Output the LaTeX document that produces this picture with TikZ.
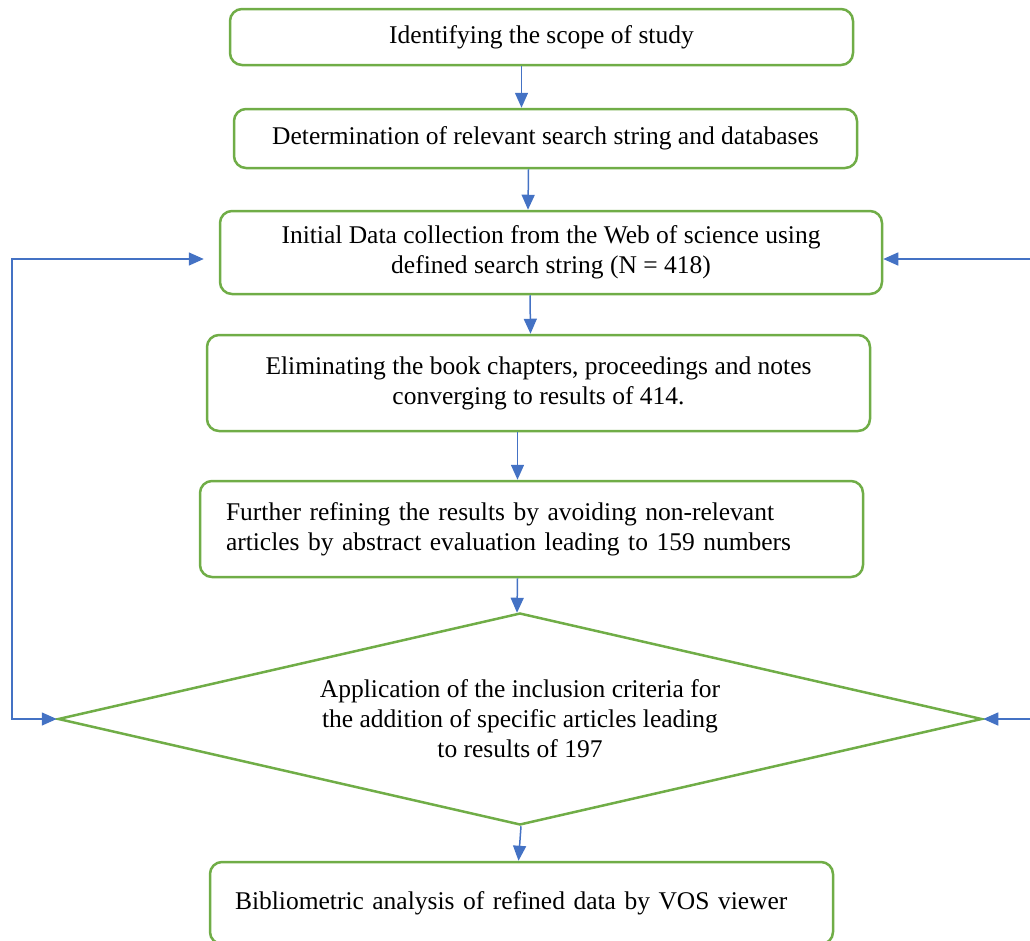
\documentclass[tikz,border=0pt]{standalone}
\usepackage{fontspec}
\setmainfont{Liberation Serif}
\usetikzlibrary{arrows.meta,shapes.geometric}
\definecolor{boxgreen}{RGB}{112,173,71}
\definecolor{lineblue}{RGB}{68,114,196}
\tikzset{
    stepbox/.style={draw=boxgreen, line width=2.5pt, rounded corners=12pt, align=center,
        inner sep=0pt, font=\fontsize{25.5}{30}\selectfont},
    critbox/.style={diamond, draw=boxgreen, line width=2.5pt, align=center, inner sep=0pt,
        minimum width=924pt, minimum height=212pt, aspect=4.36, font=\fontsize{25.5}{30}\selectfont},
    flow/.style={draw=lineblue, line width=1.5pt, -{Triangle[length=15pt,width=13pt]}}
}
\begin{document}
\begin{tikzpicture}[x=1pt, y=1pt]
    \useasboundingbox (0,0) rectangle (1030,-940);
    % steps of the review
    \node[stepbox, minimum width=623pt, minimum height=56pt] (scope) at (541.5,-37)
        {Identifying the scope of study};
    \node[stepbox, minimum width=623pt, minimum height=59pt] (search) at (545.5,-138.5)
        {Determination of relevant search string and databases};
    \node[stepbox, minimum width=662pt, minimum height=83pt] (init) at (551,-252.5)
        {Initial Data collection from the Web of science using\\defined search string (N = 418)};
    \node[stepbox, minimum width=663pt, minimum height=96pt] (elim) at (538.5,-383)
        {Eliminating the book chapters, proceedings and notes\\converging to results of 414.};
    \node[stepbox, minimum height=96pt, text width=611pt, inner xsep=26pt, align=left] (refine) at (531.5,-529)
        {Further refining the results by avoiding non-relevant\\articles by abstract evaluation leading to 159 numbers};
    \node[critbox] (crit) at (520,-719)
        {Application of the inclusion criteria for\\the addition of specific articles leading\\to results of 197};
    \node[stepbox, minimum height=82pt, text width=573pt, inner xsep=25pt, align=left] (biblio) at (521.5,-903)
        {Bibliometric analysis of refined data by VOS viewer};
    % arrows down
    \draw[flow] ([xshift=-20pt]scope.south) -- ([xshift=-24pt]search.north);
    \draw[flow] ([xshift=-17pt]search.south) -- ([xshift=-23pt]init.north);
    \draw[flow] ([xshift=-21pt]init.south) -- ([xshift=-8pt]elim.north);
    \draw[flow] ([xshift=-21pt]elim.south) -- ([xshift=-14pt]refine.north);
    \draw[flow] ([xshift=-14pt]refine.south) -- ([xshift=-3pt,yshift=-1pt]crit.north);
    \draw[flow] ([xshift=1pt]crit.south) -- ([xshift=-3pt]biblio.north);
    % side loops
    \coordinate (lcol) at (12,-488);
    \coordinate (rtop) at (1030,-259);
    \coordinate (rbot) at (1030,-719);
    \draw[flow, shorten >=15pt] (lcol) |- (init.west |- rtop);
    \draw[flow] (lcol) |- (crit.west);
    \draw[flow] (rtop) -- (init.east |- rtop);
    \draw[flow] (rbot) -- (crit.east);
\end{tikzpicture}
\end{document}
